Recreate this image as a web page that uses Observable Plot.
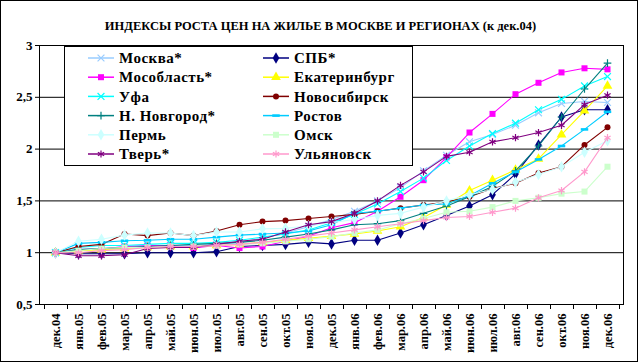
<!DOCTYPE html>
<html><head><meta charset="utf-8">
<script src="https://cdn.jsdelivr.net/npm/d3@7"></script>
<script src="https://cdn.jsdelivr.net/npm/@observablehq/plot@0.6"></script>
<style>
html,body{margin:0;padding:0;background:#fff}
#chart svg{display:block}
</style>
</head><body><div id="chart"></div>
<script>
const titleText = "ИНДЕКСЫ РОСТА ЦЕН НА ЖИЛЬЕ В МОСКВЕ И РЕГИОНАХ (к дек.04)";
const months = ["дек.04","янв.05","фев.05","мар.05","апр.05","май.05","июн.05","июл.05","авг.05","сен.05","окт.05","ноя.05","дек.05","янв.06","фев.06","мар.06","апр.06","май.06","июн.06","июл.06","авг.06","сен.06","окт.06","ноя.06","дек.06"];
const yTicks = [0.5, 1, 1.5, 2, 2.5, 3];

const moskva = [1.00,1.03,1.04,1.05,1.06,1.07,1.07,1.08,1.10,1.14,1.19,1.25,1.32,1.40,1.50,1.63,1.79,1.94,2.07,2.14,2.23,2.35,2.44,2.46,2.45];
const spb    = [1.00,0.99,0.99,0.99,1.00,1.00,1.00,1.01,1.06,1.07,1.08,1.10,1.085,1.12,1.12,1.19,1.27,1.36,1.45,1.56,1.76,2.04,2.31,2.38,2.38];
const mosobl = [1.00,1.03,1.035,1.06,1.07,1.07,1.045,1.07,1.045,1.06,1.11,1.16,1.24,1.29,1.40,1.54,1.70,1.92,2.16,2.34,2.53,2.64,2.74,2.78,2.77];
const ekb    = [1.00,1.02,1.03,1.04,1.05,1.06,1.06,1.07,1.08,1.10,1.12,1.14,1.16,1.18,1.21,1.25,1.34,1.46,1.60,1.70,1.80,1.905,2.14,2.37,2.61];
const ufa    = [1.00,1.05,1.07,1.07,1.08,1.09,1.09,1.10,1.12,1.15,1.18,1.22,1.29,1.37,1.47,1.59,1.72,1.89,2.03,2.15,2.25,2.38,2.48,2.61,2.70];
const nsk    = [1.00,1.06,1.08,1.18,1.165,1.19,1.165,1.21,1.27,1.30,1.31,1.33,1.35,1.37,1.40,1.43,1.46,1.49,1.54,1.62,1.67,1.77,1.83,2.04,2.21];
const nnov   = [1.00,1.03,1.04,1.05,1.06,1.07,1.08,1.09,1.10,1.12,1.15,1.18,1.22,1.27,1.28,1.31,1.38,1.45,1.54,1.64,1.79,2.03,2.31,2.58,2.83];
const rostov = [1.00,1.09,1.10,1.115,1.12,1.13,1.13,1.15,1.17,1.18,1.19,1.21,1.27,1.38,1.40,1.43,1.46,1.47,1.55,1.67,1.78,1.90,2.03,2.19,2.36];
const perm   = [1.00,1.11,1.13,1.17,1.19,1.19,1.165,1.20,1.20,1.23,1.235,1.26,1.29,1.32,1.36,1.38,1.44,1.50,1.56,1.61,1.68,1.755,1.83,1.97,2.08];
const omsk   = [1.00,1.02,1.04,1.05,1.05,1.06,1.06,1.07,1.08,1.09,1.11,1.13,1.155,1.19,1.22,1.28,1.33,1.39,1.40,1.44,1.50,1.53,1.57,1.59,1.83];
const tver   = [1.00,0.97,0.97,0.98,1.04,1.05,1.05,1.08,1.11,1.13,1.20,1.27,1.30,1.38,1.50,1.65,1.78,1.93,1.97,2.07,2.11,2.16,2.23,2.43,2.52];
const ulyan  = [1.00,1.00,1.02,1.03,1.05,1.06,1.06,1.07,1.08,1.10,1.13,1.16,1.19,1.22,1.25,1.28,1.31,1.34,1.35,1.39,1.43,1.53,1.60,1.78,2.11];

const seriesNames  = ["Москва*","СПБ*","Мособласть*","Екатеринбург","Уфа","Новосибирск","Н. Новгород*","Ростов","Пермь","Омск","Тверь*","Ульяновск"];
const seriesValues = [moskva, spb, mosobl, ekb, ufa, nsk, nnov, rostov, perm, omsk, tver, ulyan];
const seriesColors = ["#99CCFF","#000080","#FF00FF","#FFFF00","#00FFFF","#800000","#008080","#00CCFF","#CCFFFF","#CCFFCC","#800080","#FF99CC"];
const seriesSymbols = ["times","diamond","square","triangle","times","circle","plus","dash","diamond","square","asterisk","asterisk"];
// legend: column-major display order
const legendOrder = ["Москва*","Мособласть*","Уфа","Н. Новгород*","Пермь","Тверь*","СПБ*","Екатеринбург","Новосибирск","Ростов","Омск","Ульяновск"];

const dashSymbol = {draw(ctx, size) {const w = Math.sqrt(size) * 0.62; ctx.moveTo(-w, -1.3); ctx.lineTo(w, -1.3); ctx.lineTo(w, 1.3); ctx.lineTo(-w, 1.3); ctx.closePath();}};
const strokeOnly = new Set(["times","plus","asterisk"]);
const symR = {times: 3.2, diamond: 3.5, square: 3.4, triangle: 3.6, circle: 3.0, plus: 2.6, asterisk: 3.4, dash: 3.4};
function symObj(name) { return name === "dash" ? dashSymbol : name; }

const rows = [];
seriesNames.forEach((name, k) => seriesValues[k].forEach((v, i) => rows.push({series: name, month: months[i], value: v})));

const font = "'Liberation Serif','Times New Roman',serif";
const marks = [
  Plot.ruleY(yTicks, {y: d => d, stroke: "black", strokeWidth: 1}),
  Plot.frame({stroke: "black", strokeWidth: 1}),
  Plot.axisY({ticks: yTicks, tickFormat: d => String(d).replace(".", ","), tickSize: 4, tickPadding: 3, fontSize: 13, fontWeight: "bold", label: null, stroke: "black"}),
  Plot.axisX({tickRotate: -90, tickSize: 0, tickPadding: 9, fontSize: 12.5, fontWeight: "bold", label: null})
];
seriesNames.forEach((name, k) => {
  const data = rows.filter(r => r.series === name);
  const col = seriesColors[k];
  const sym = seriesSymbols[k];
  marks.push(Plot.line(data, {x: "month", y: "value", stroke: col, strokeWidth: 1.1}));
  marks.push(Plot.dot(data, {x: "month", y: "value", symbol: symObj(sym), r: symR[sym],
    fill: strokeOnly.has(sym) ? "none" : col, stroke: strokeOnly.has(sym) ? col : "none", strokeWidth: 1.2}));
});
marks.push(Plot.text([titleText], {text: d => d, frameAnchor: "top", dy: -20, dx: -11, fontSize: 12.5, fontWeight: "bold", lineAnchor: "middle"}));

const plot = Plot.plot({
  width: 641, height: 364,
  marginLeft: 39, marginRight: 18, marginTop: 45, marginBottom: 60,
  style: {fontFamily: font, background: "white", color: "black", overflow: "visible"},
  x: {type: "point", domain: months, padding: 0.5},
  y: {domain: [0.5, 3]},
  marks
});

const svg = d3.select(plot);
// category-boundary ticks on the x axis
const xs = plot.scale("x");
const p0 = xs.apply(months[0]), step = xs.apply(months[1]) - p0;
const yBottom = plot.scale("y").apply(0.5);
const tg = svg.append("g").attr("stroke", "black");
for (let k = 0; k <= months.length; k++) {
  const xx = Math.round(p0 - step / 2 + k * step) + 0.5;
  tg.append("line").attr("x1", xx).attr("x2", xx).attr("y1", yBottom).attr("y2", yBottom + 5);
}
// legend
const lg = svg.append("g").attr("font-family", font).attr("font-weight", "bold").attr("font-size", 15).attr("text-anchor", "start");
lg.append("rect").attr("x", 64.5).attr("y", 46.5).attr("width", 348).attr("height", 119).attr("fill", "white").attr("stroke", "black");
legendOrder.forEach((name, j) => {
  const k = seriesNames.indexOf(name);
  const col = seriesColors[k], sym = seriesSymbols[k];
  const x0 = j < 6 ? 88 : 263;
  const y = 58 + (j % 6) * 19.2;
  lg.append("line").attr("x1", x0).attr("x2", x0 + 26).attr("y1", y).attr("y2", y).attr("stroke", col).attr("stroke-width", 1.5);
  const d3sym = {times: d3.symbolTimes, diamond: d3.symbolDiamond, square: d3.symbolSquare, triangle: d3.symbolTriangle, circle: d3.symbolCircle, plus: d3.symbolPlus, asterisk: d3.symbolAsterisk, dash: dashSymbol}[sym];
  const r = symR[sym];
  lg.append("path").attr("transform", `translate(${x0 + 13},${y})`).attr("d", d3.symbol(d3sym, r * r * Math.PI)())
    .attr("fill", strokeOnly.has(sym) ? "none" : col).attr("stroke", strokeOnly.has(sym) ? col : "none").attr("stroke-width", 1.2);
  lg.append("text").attr("x", x0 + 31).attr("y", y).attr("dy", "0.35em").attr("text-anchor", "start").attr("letter-spacing", "0.5px").text(name);
});
// outer chart border
svg.append("rect").attr("x", 0.5).attr("y", 0.5).attr("width", 637).attr("height", 361).attr("fill", "none").attr("stroke", "black");
document.getElementById("chart").appendChild(plot);
</script>
</body></html>
